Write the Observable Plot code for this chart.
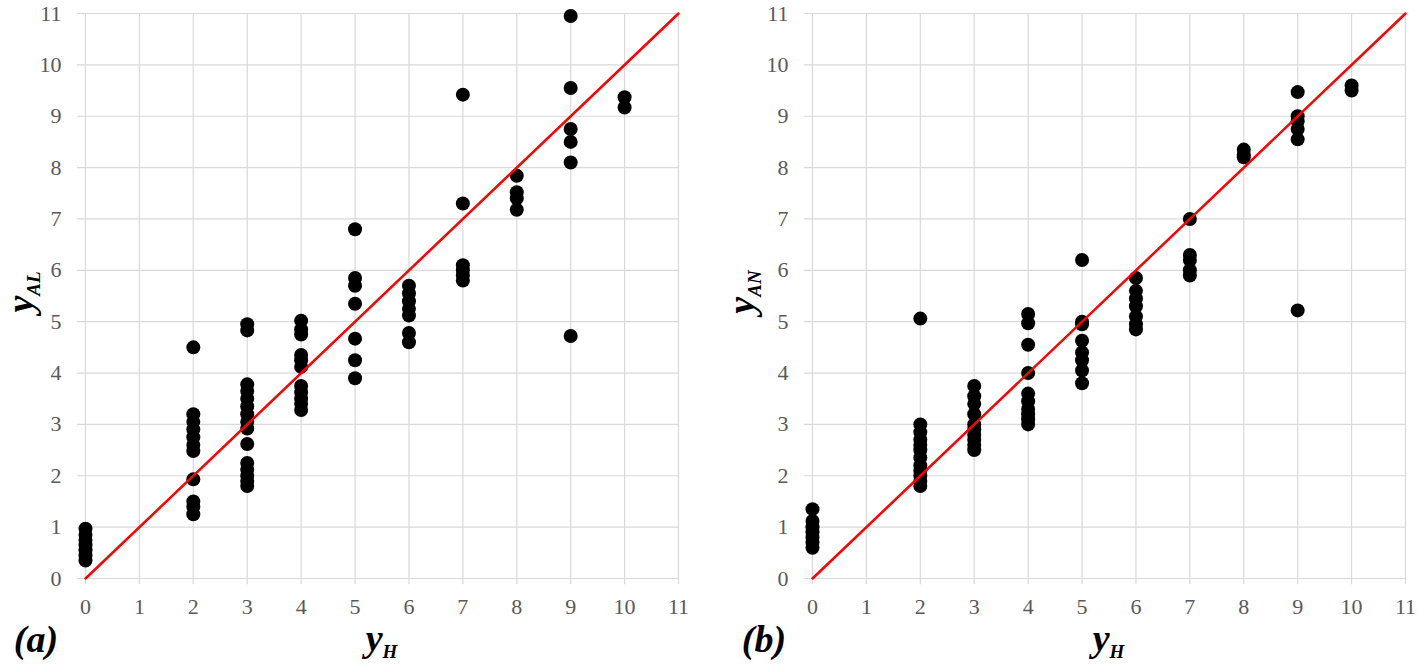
<!DOCTYPE html>
<html><head><meta charset="utf-8">
<script src="https://cdn.jsdelivr.net/npm/d3@7"></script>
<script src="https://cdn.jsdelivr.net/npm/@observablehq/plot@0.6"></script>
<style>
body{margin:0;background:#fff;}
#wrap{display:flex;width:1418px;height:668px;}
</style></head><body><div id="wrap"></div>
<script>
// x categories (y_H)
const yH = [0, 2, 3, 4, 5, 6, 7, 8, 9, 10];
// panel (a): y_AL values per y_H category
const yAL = [
  [0.35, 0.45, 0.55, 0.65, 0.75, 0.85, 0.97],
  [4.5, 3.2, 3.05, 2.9, 2.75, 2.6, 2.48, 1.93, 1.5, 1.4, 1.25],
  [4.95, 4.83, 3.78, 3.65, 3.5, 3.35, 3.2, 3.05, 2.92, 2.62, 2.25, 2.12, 2.0, 1.9, 1.8],
  [5.02, 4.85, 4.75, 4.35, 4.25, 4.12, 3.75, 3.62, 3.5, 3.4, 3.28],
  [6.8, 5.85, 5.7, 5.35, 4.67, 4.25, 3.9],
  [5.7, 5.55, 5.4, 5.25, 5.12, 4.78, 4.6],
  [9.42, 7.3, 6.1, 6.0, 5.9, 5.8],
  [7.84, 7.52, 7.4, 7.18],
  [10.95, 9.55, 8.75, 8.5, 8.1, 4.72],
  [9.37, 9.17]
];
// panel (b): y_AN values per y_H category
const yAN = [
  [1.35, 1.12, 1.0, 0.9, 0.8, 0.7, 0.6],
  [5.06, 3.0, 2.85, 2.7, 2.6, 2.5, 2.35, 2.2, 2.1, 2.0, 1.9, 1.8],
  [3.75, 3.55, 3.4, 3.2, 3.0, 2.9, 2.8, 2.7, 2.6, 2.5],
  [5.15, 4.97, 4.55, 4.0, 3.6, 3.45, 3.3, 3.2, 3.1, 3.0],
  [6.2, 5.0, 4.95, 4.63, 4.4, 4.25, 4.05, 3.8],
  [5.85, 5.6, 5.45, 5.3, 5.1, 4.95, 4.85],
  [7.0, 6.3, 6.2, 6.0, 5.9],
  [8.35, 8.25, 8.2],
  [9.47, 9.0, 8.9, 8.75, 8.55, 5.22],
  [9.6, 9.5]
];
const tickValues = [0, 1, 2, 3, 4, 5, 6, 7, 8, 9, 10, 11];
const diagonal = [0, 11];
const panelLabels = ["(a)", "(b)"];
const ySubs = ["AL", "AN"];
const xTitleSub = "H";

function rows(groups) {
  return yH.flatMap((x, i) => groups[i].map(v => ({x, y: v})));
}

const serif = "'Liberation Serif', 'Times New Roman', serif";

function panel(groups, opts) {
  const plot = Plot.plot({
    width: 709, height: 668,
    marginLeft: opts.ml, marginRight: opts.mr, marginTop: 13, marginBottom: 90,
    x: {domain: [0, 11]},
    y: {domain: [0, 11]},
    style: {fontSize: "21px", color: "#595959", background: "white", overflow: "visible"},
    marks: [
      Plot.ruleY(tickValues, {y: d => d, x1: -0.15, x2: 11, stroke: "#d9d9d9", strokeWidth: 1.2}),
      Plot.ruleX(tickValues, {x: d => d, y1: -0.12, y2: 11, stroke: "#d9d9d9", strokeWidth: 1.2}),
      Plot.axisX(tickValues, {tickSize: 0, tickPadding: 20, fill: "#595959", fontSize: 22, label: null, tickFormat: d => String(d)}),
      Plot.axisY(tickValues, {tickSize: 0, tickPadding: 24, fill: "#595959", fontSize: 22, label: null, tickFormat: d => String(d)}),
      Plot.dot(rows(groups), {x: "x", y: "y", r: 7, fill: "black", stroke: "none"}),
      Plot.line(diagonal, {x: d => d, y: d => d, stroke: "#ff0000", strokeWidth: 2.5})
    ]
  });
  const svg = d3.select(plot);
  const cx = opts.ml + (709 - opts.ml - opts.mr) / 2;
  // y-axis title
  const yt = svg.append("text")
    .attr("transform", `translate(${opts.ytx},292) rotate(-90)`)
    .attr("text-anchor", "middle")
    .attr("font-weight", "bold").attr("font-style", "italic")
    .attr("fill", "black").attr("font-size", 38);
  yt.append("tspan").text("y");
  yt.append("tspan").attr("dy", 7).attr("font-size", 19).text(opts.ysub);
  // x-axis title
  const xt = svg.append("text")
    .attr("x", cx).attr("y", 651)
    .attr("text-anchor", "middle")
    .attr("font-weight", "bold").attr("font-style", "italic")
    .attr("fill", "black").attr("font-size", 38);
  xt.append("tspan").text("y");
  xt.append("tspan").attr("dy", 7).attr("font-size", 19).text(xTitleSub);
  // panel label
  svg.append("text")
    .attr("x", opts.lx).attr("y", 652)
    .attr("font-weight", "bold").attr("font-style", "italic")
    .attr("fill", "black").attr("font-size", 38)
    .text(opts.label);
  svg.selectAll("text").style("font-family", serif);
  return plot;
}

const wrap = document.getElementById("wrap");
wrap.append(panel(yAL, {ml: 85, mr: 31, ytx: 33, ysub: ySubs[0], lx: 36, label: panelLabels[0]}));
wrap.append(panel(yAN, {ml: 103, mr: 13, ytx: 45, ysub: ySubs[1], lx: 55, label: panelLabels[1]}));
</script></body></html>
